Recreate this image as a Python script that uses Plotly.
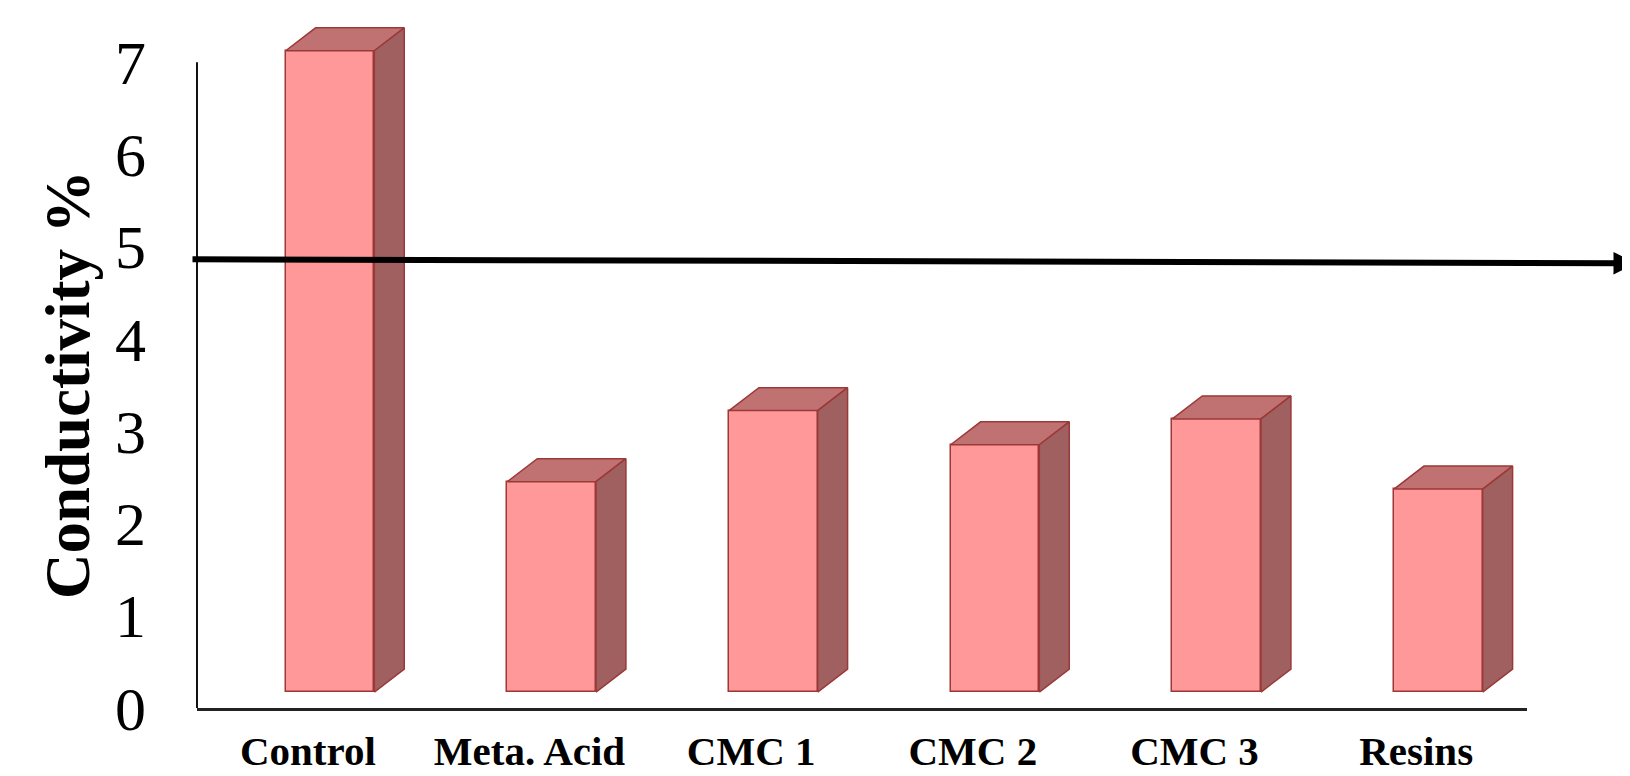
import plotly.graph_objects as go

# ---- data ----
categories = ["Control", "Meta. Acid", "CMC 1", "CMC 2", "CMC 3", "Resins"]
conductivity = [6.95, 2.28, 3.05, 2.68, 2.96, 2.20]
y_ticks = [0, 1, 2, 3, 4, 5, 6, 7]
threshold = 4.82

# ---- style / geometry ----
W, H = 1630, 776
M_L, M_R, M_T, M_B = 189, 111, 8, 76
Y_MAX = 7.5
floor = 0.173          # bars sit slightly above the axis line (3-D floor)
offset = 0.10          # front face shifted right of category centre
bar_w = 0.40
depth_x = 0.135        # 3-D depth in x units
depth_y = 0.249        # 3-D depth in y units
FRONT = "#FF9999"
TOP = "#C07272"
SIDE = "#A06060"
EDGE = "#9C3838"
SERIF = "Liberation Serif, Times New Roman, serif"

fig = go.Figure()

xs = list(range(len(categories)))

# front faces
fig.add_trace(go.Bar(
    x=[i + offset for i in xs], y=conductivity, base=[floor] * len(xs),
    width=bar_w, marker=dict(color=FRONT, line=dict(color=EDGE, width=1.5)),
    showlegend=False, hoverinfo="skip", cliponaxis=False))

# top and side faces
for i, v in zip(xs, conductivity):
    x0 = i + offset - bar_w / 2
    x1 = i + offset + bar_w / 2
    top = floor + v
    fig.add_trace(go.Scatter(
        x=[x0, x0 + depth_x, x1 + depth_x, x1, x0],
        y=[top, top + depth_y, top + depth_y, top, top],
        fill="toself", fillcolor=TOP, mode="lines",
        line=dict(color=EDGE, width=1.5), showlegend=False, hoverinfo="skip"))
    fig.add_trace(go.Scatter(
        x=[x1, x1 + depth_x, x1 + depth_x, x1, x1],
        y=[floor, floor + depth_y, top + depth_y, top, floor],
        fill="toself", fillcolor=SIDE, mode="lines",
        line=dict(color=EDGE, width=1.5), showlegend=False, hoverinfo="skip"))

plot_w = W - M_L - M_R
plot_h = H - M_T - M_B

# y axis line (only up to 7)
fig.add_shape(type="line", xref="paper", yref="y", x0=0, x1=0,
              y0=0, y1=max(y_ticks), line=dict(color="#111111", width=2))

# threshold arrow
head_px = 1628
fig.add_annotation(
    x=(head_px - M_L) / plot_w, xref="paper", y=threshold, yref="y",
    ax=183 - head_px, ay=-4, axref="pixel", ayref="pixel",
    showarrow=True, arrowhead=2, arrowsize=0.75, arrowwidth=6,
    arrowcolor="#000000", text="", standoff=0)

# y title
fig.add_annotation(
    x=(60 - M_L) / plot_w, xref="paper", y=(H - M_B - 377) / plot_h * Y_MAX,
    yref="y", text="<b>Conductivity %</b>", showarrow=False, textangle=-90,
    font=dict(family=SERIF, size=63, color="#000000"),
    xanchor="center", yanchor="middle")

fig.update_layout(
    width=W, height=H,
    margin=dict(l=M_L, r=M_R, t=M_T, b=M_B, autoexpand=False),
    plot_bgcolor="white", paper_bgcolor="white",
    bargap=0, showlegend=False,
    xaxis=dict(range=[-0.5, len(categories) - 0.5], tickmode="array",
               tickvals=xs, ticktext=categories, showgrid=False, zeroline=False,
               showline=True, linecolor="#222222", linewidth=2.5, ticks="",
               ticklabelstandoff=5, automargin=False,
               tickfont=dict(family=SERIF, size=41, color="#000000", weight="bold")),
    yaxis=dict(range=[0, Y_MAX], tickmode="array", tickvals=y_ticks,
               showgrid=False, zeroline=False, showline=False, ticks="",
               ticklabelstandoff=50, automargin=False,
               tickfont=dict(family=SERIF, size=62, color="#000000")),
)

fig.write_html("out.html")
